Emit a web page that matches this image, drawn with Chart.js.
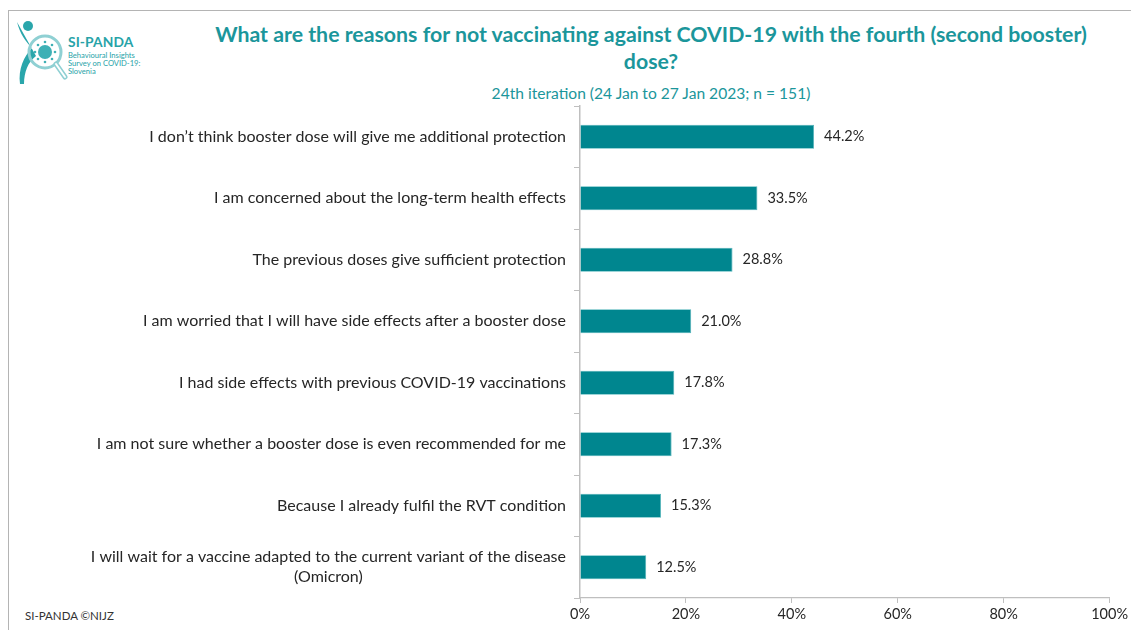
<!DOCTYPE html>
<html>
<head>
<meta charset="utf-8">
<script src="https://cdn.jsdelivr.net/npm/chart.js@4.4.1/dist/chart.umd.min.js"></script>
<style>
  html, body { margin: 0; padding: 0; background: #fff; }
  #wrap { position: relative; width: 1131px; height: 630px; overflow: hidden; font-family: Lato, "Open Sans", sans-serif; }
  #frame { position: absolute; left: 8px; top: 10px; width: 1200px; height: 700px; border-top: 1.5px solid #b4b4b4; border-left: 1.5px solid #b4b4b4; }
  canvas#chart { position: absolute; left: 0; top: 0; }
  .title { position: absolute; left: 150px; width: 1002px; text-align: center; color: #1b969b; font-weight: bold; font-size: 21.3px; line-height: 27px; top: 21px; }
  .subtitle { position: absolute; left: 150px; width: 1002px; text-align: center; color: #1b969b; font-size: 15.6px; top: 84px; }
  .footer { position: absolute; left: 25px; top: 609px; color: #333; font-size: 11.5px; }
  .logo { position: absolute; left: 12px; top: 14px; }
  .logoname { position: absolute; left: 68px; top: 33px; color: #27a3a8; font-weight: bold; font-size: 13.8px; letter-spacing: 0.1px; }
  .logosub { position: absolute; left: 68px; top: 51px; color: #27a3a8; font-size: 7.6px; line-height: 8px; }
</style>
</head>
<body>
<div id="wrap">
  <div id="frame"></div>
  <svg class="logo" width="60" height="75" viewBox="0 0 60 75">
    <!-- running figure -->
    <path d="M5 8 C8 20, 14 28, 20 34 C12 42, 6 55, 8 70 L12 70 C12 58, 16 48, 24 42 Z" fill="#2aa6ab"/>
    <circle cx="16" cy="12" r="5" fill="#2aa6ab"/>
    <!-- magnifier -->
    <circle cx="33" cy="38" r="16" fill="none" stroke="#8fd0d3" stroke-width="3"/>
    <line x1="44" y1="50" x2="53" y2="63" stroke="#8fd0d3" stroke-width="5" stroke-linecap="round"/>
    <line x1="44" y1="50" x2="53" y2="63" stroke="#ffffff" stroke-width="2" stroke-linecap="round"/>
    <!-- virus -->
    <circle cx="33" cy="38" r="7" fill="#3fb0b5"/>
    <g fill="#3fb0b5">
      <circle cx="33" cy="28" r="1.3"/><circle cx="33" cy="48" r="1.3"/>
      <circle cx="23" cy="38" r="1.3"/><circle cx="43" cy="38" r="1.3"/>
      <circle cx="26" cy="31" r="1.3"/><circle cx="40" cy="31" r="1.3"/>
      <circle cx="26" cy="45" r="1.3"/><circle cx="40" cy="45" r="1.3"/>
    </g>
  </svg>
  <div class="logoname">SI-PANDA</div>
  <div class="logosub">Behavioural Insights<br>Survey on COVID-19:<br>Slovenia</div>
  <div class="title">What are the reasons for not vaccinating against COVID-19 with the fourth (second booster)<br>dose?</div>
  <div class="subtitle">24th iteration (24 Jan to 27 Jan 2023; n = 151)</div>
  <div class="footer">SI-PANDA ©NIJZ</div>
  <canvas id="chart" width="1131" height="630"></canvas>
</div>
<script>
// Reasons for not taking the fourth dose, share of respondents (%)
const reasons = [
  "I don\u2019t think booster dose will give me additional protection",
  "I am concerned about the long-term health effects",
  "The previous doses give sufficient protection",
  "I am worried that I will have side effects after a booster dose",
  "I had side effects with previous COVID-19 vaccinations",
  "I am not sure whether a booster dose is even recommended for me",
  "Because I already fulfil the RVT condition",
  ["I will wait for a vaccine adapted to the current variant of the disease", "(Omicron)"]
];
const shares = [44.2, 33.5, 28.8, 21.0, 17.8, 17.3, 15.3, 12.5];
const xTicks = [0, 20, 40, 60, 80, 100];

const FONT = 'Lato, "Open Sans", sans-serif';
const TEXT = '#262626';
const AXIS = '#bfbfbf';
const AXIS_LEFT = 580;

// Category labels: each line centred on the widest line, block right-aligned to the axis
const categoryLabels = {
  id: 'categoryLabels',
  afterDraw(chart) {
    const { ctx, scales: { y } } = chart;
    ctx.save();
    ctx.font = '16px ' + FONT;
    ctx.fillStyle = TEXT;
    ctx.textAlign = 'center';
    ctx.textBaseline = 'middle';
    const right = y.right - 14;
    reasons.forEach((lab, i) => {
      const lines = Array.isArray(lab) ? lab : [lab];
      const w = Math.max(...lines.map(l => ctx.measureText(l).width));
      const cx = right - w / 2;
      const cy = y.getPixelForTick(i);
      const lh = 20;
      lines.forEach((l, k) => {
        ctx.fillText(l, cx, cy + (k - (lines.length - 1) / 2) * lh);
      });
    });
    ctx.restore();
  }
};

// Value labels at the end of each bar
const valueLabels = {
  id: 'valueLabels',
  afterDatasetsDraw(chart) {
    const { ctx } = chart;
    const meta = chart.getDatasetMeta(0);
    ctx.save();
    ctx.font = '14.5px ' + FONT;
    ctx.fillStyle = TEXT;
    ctx.textAlign = 'left';
    ctx.textBaseline = 'middle';
    meta.data.forEach((bar, i) => {
      ctx.fillText(shares[i].toFixed(1) + '%', bar.x + 10, bar.y);
    });
    ctx.restore();
  }
};

new Chart(document.getElementById('chart'), {
  type: 'bar',
  data: {
    labels: reasons,
    datasets: [{
      data: shares,
      backgroundColor: '#00868f',
      borderColor: '#4fb3b9',
      borderWidth: 0.8,
      categoryPercentage: 1,
      barPercentage: 0.39
    }]
  },
  options: {
    indexAxis: 'y',
    responsive: false,
    animation: false,
    layout: { padding: { top: 106, right: 21, left: 0, bottom: 0 } },
    plugins: {
      legend: { display: false },
      tooltip: { enabled: false }
    },
    scales: {
      x: {
        min: 0,
        max: 100,
        afterBuildTicks(scale) { scale.ticks = xTicks.map(v => ({ value: v })); },
        afterFit(scale) { scale.height = 32; },
        grid: { drawOnChartArea: false, color: AXIS, tickLength: 5 },
        border: { color: AXIS, width: 1.2 },
        ticks: {
          color: TEXT,
          font: { family: FONT, size: 14.5 },
          padding: 3,
          maxRotation: 0,
          callback: v => v + '%'
        }
      },
      y: {
        afterFit(scale) { scale.width = AXIS_LEFT; },
        grid: { drawOnChartArea: false, offset: true, color: AXIS, tickLength: 6 },
        border: { color: AXIS, width: 1.5 },
        ticks: { display: false }
      }
    }
  },
  plugins: [categoryLabels, valueLabels]
});
</script>
</body>
</html>
